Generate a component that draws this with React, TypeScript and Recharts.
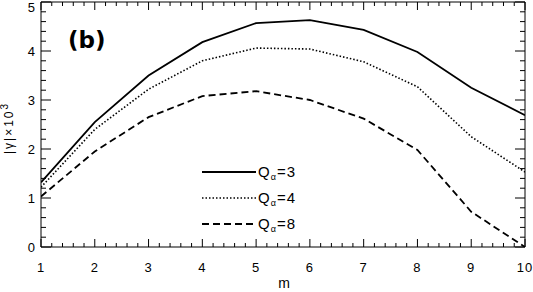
import React from 'react';
import { LineChart, Line, XAxis, YAxis } from 'recharts';

const mValues = [1, 2, 3, 4, 5, 6, 7, 8, 9, 10];
const q3 = [1.32, 2.55, 3.5, 4.18, 4.57, 4.63, 4.43, 3.98, 3.25, 2.69];
const q4 = [1.22, 2.4, 3.22, 3.8, 4.06, 4.04, 3.78, 3.27, 2.25, 1.53];
const q8 = [1.03, 1.95, 2.65, 3.08, 3.18, 3.0, 2.62, 1.98, 0.72, 0.0];

const xMajorTicks = [1, 2, 3, 4, 5, 6, 7, 8, 9, 10];
const yMajorTicks = [0, 1, 2, 3, 4, 5];
const minorSteps = 5;

const seriesDefs = [
  { key: 'q3', label: '3', dash: undefined as string | undefined, width: 1.8 },
  { key: 'q4', label: '4', dash: '1.5 2', width: 1.6 },
  { key: 'q8', label: '8', dash: '7 4', width: 1.8 },
];

const data = mValues.map((m, i) => ({ m, q3: q3[i], q4: q4[i], q8: q8[i] }));

const withMinor = (major: number[]) => {
  const out: number[] = [];
  for (let i = 0; i < major.length - 1; i++) {
    const a = major[i];
    const b = major[i + 1];
    for (let k = 0; k < minorSteps; k++) out.push(+(a + ((b - a) * k) / minorSteps).toFixed(4));
  }
  out.push(major[major.length - 1]);
  return out;
};
const xTicks = withMinor(xMajorTicks);
const yTicks = withMinor(yMajorTicks);
const isMajor = (v: number) => Math.abs(v - Math.round(v)) < 1e-6;

const FONT = '"Liberation Sans", Arial, sans-serif';

const BottomTick = (p: any) => {
  const v = p.payload.value;
  const maj = isMajor(v);
  return (
    <g>
      <line x1={p.x} y1={p.y} x2={p.x} y2={p.y - (maj ? 8 : 4)} stroke="#000" strokeWidth={1} />
      {maj && (
        <text x={p.x} y={p.y + 25} textAnchor="middle" fontSize={13} letterSpacing={1} fontFamily={FONT} fill="#000">
          {v}
        </text>
      )}
    </g>
  );
};
const TopTick = (p: any) => {
  const maj = isMajor(p.payload.value);
  return <line x1={p.x} y1={p.y} x2={p.x} y2={p.y + (maj ? 8 : 4)} stroke="#000" strokeWidth={1} />;
};
const LeftTick = (p: any) => {
  const v = p.payload.value;
  const maj = isMajor(v);
  return (
    <g>
      <line x1={p.x} y1={p.y} x2={p.x + (maj ? 10 : 5)} y2={p.y} stroke="#000" strokeWidth={1} />
      {maj && (
        <text x={p.x - 6} y={Math.max(p.y + 4.5, 12)} textAnchor="end" fontSize={13} fontFamily={FONT} fill="#000">
          {v}
        </text>
      )}
    </g>
  );
};
const RightTick = (p: any) => {
  const maj = isMajor(p.payload.value);
  return <line x1={p.x} y1={p.y} x2={p.x - (maj ? 10 : 5)} y2={p.y} stroke="#000" strokeWidth={1} />;
};

export default function App() {
  return (
    <div style={{ position: 'relative', width: 533, height: 292, background: '#fff' }}>
      <style>{'body{margin:0;background:#fff}'}</style>
      <LineChart width={533} height={292} data={data} margin={{ top: 1, left: 6, right: 7, bottom: 15 }}>
        <XAxis
          dataKey="m"
          type="number"
          domain={[1, 10]}
          ticks={xTicks}
          interval={0}
          height={30}
          tickSize={0}
          tickMargin={0}
          tick={<BottomTick />}
          axisLine={{ stroke: '#000', strokeWidth: 1 }}
          allowDataOverflow
        />
        <XAxis
          xAxisId="top"
          orientation="top"
          dataKey="m"
          type="number"
          domain={[1, 10]}
          ticks={xTicks}
          interval={0}
          height={1}
          tickSize={0}
          tickMargin={0}
          tick={<TopTick />}
          axisLine={{ stroke: '#000', strokeWidth: 1 }}
          allowDataOverflow
        />
        <YAxis
          type="number"
          domain={[0, 5]}
          ticks={yTicks}
          interval={0}
          width={35}
          tickSize={0}
          tickMargin={0}
          tick={<LeftTick />}
          axisLine={{ stroke: '#000', strokeWidth: 1 }}
          allowDataOverflow
        />
        <YAxis
          yAxisId="right"
          orientation="right"
          type="number"
          domain={[0, 5]}
          ticks={yTicks}
          interval={0}
          width={1}
          tickSize={0}
          tickMargin={0}
          tick={<RightTick />}
          axisLine={{ stroke: '#000', strokeWidth: 1 }}
          allowDataOverflow
        />
        {seriesDefs.map((s) => (
          <Line
            key={s.key}
            dataKey={s.key}
            type="linear"
            stroke="#000"
            strokeWidth={s.width}
            strokeDasharray={s.dash}
            dot={false}
            activeDot={false}
            isAnimationActive={false}
          />
        ))}
      </LineChart>
      <svg width={533} height={292} style={{ position: 'absolute', left: 0, top: 0, pointerEvents: 'none' }}>
        <text x={68} y={48} fontSize={23} fontWeight="bold" fontFamily='"DejaVu Sans", sans-serif' fill="#000">
          (b)
        </text>
        <text x={284} y={288} textAnchor="middle" fontSize={14} fontFamily={FONT} fill="#000">
          m
        </text>
        <text
          transform="translate(13,128) rotate(-90)"
          textAnchor="middle"
          fontSize={12}
          letterSpacing={2}
          fontFamily={FONT}
          fill="#000"
        >
          |γ|×10<tspan dy={-5} fontSize={10}>3</tspan>
        </text>
        {seriesDefs.map((s, i) => {
          const y = 172 + i * 26;
          return (
            <g key={s.key}>
              <line x1={202} y1={y} x2={256} y2={y} stroke="#000" strokeWidth={s.width} strokeDasharray={s.dash} />
              <text x={258} y={y + 5} fontSize={15} letterSpacing={1} fontFamily={FONT} fill="#000">
                Q<tspan dy={3} fontSize={9}>α</tspan>
                <tspan dy={-3}>={s.label}</tspan>
              </text>
            </g>
          );
        })}
      </svg>
    </div>
  );
}
